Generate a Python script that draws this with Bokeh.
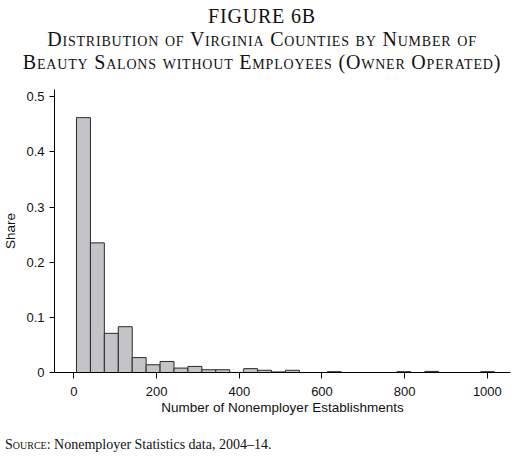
from bokeh.plotting import figure
from bokeh.models import Range1d, FixedTicker, Div
from bokeh.layouts import column
from bokeh.embed import file_html
from bokeh.resources import INLINE

# ---- data ----
bin_start = 6.2
bin_width = 33.7
shares = [0.462, 0.235, 0.071, 0.083, 0.027, 0.014, 0.020, 0.008, 0.011, 0.005,
          0.005, 0.0, 0.007, 0.004, 0.001, 0.004, 0.0, 0.0, 0.0015, 0.0,
          0.0, 0.0, 0.0, 0.0015, 0.0, 0.002, 0.0, 0.0, 0.0, 0.0015]
x_ticks = [0, 200, 400, 600, 800, 1000]
y_ticks = [0, 0.1, 0.2, 0.3, 0.4, 0.5]

title_lines = ["FIGURE 6B",
               "Distribution of Virginia Counties by Number of",
               "Beauty Salons without Employees (Owner Operated)"]
x_label = "Number of Nonemployer Establishments"
y_label = "Share"
source_head = "Source"
source_text = ": Nonemployer Statistics data, 2004\u201314."

lefts = [bin_start + i * bin_width for i in range(len(shares))]
rights = [l + bin_width for l in lefts]

SANS = "Liberation Sans"
SERIF = "Liberation Serif"

title_html = (
    f'<div style="width:514px; text-align:center; '
    f'font-family:\'{SERIF}\'; color:#111; line-height:23px; font-size:20px; letter-spacing:0.8px;">'
    f'<div>{title_lines[0]}</div>'
    f'<div style="font-variant:small-caps">{title_lines[1]}</div>'
    f'<div style="font-variant:small-caps">{title_lines[2]}</div>'
    f'</div>'
)
title_div = Div(text=title_html, width=514, height=70)

p = figure(width=514, height=347, x_range=Range1d(-47, 1056), y_range=Range1d(0, 0.513),
           output_backend="svg", toolbar_location=None,
           min_border_left=0, min_border_right=4, min_border_top=9, min_border_bottom=55)
p.outline_line_color = None
p.xgrid.visible = False
p.ygrid.visible = False
p.background_fill_color = "white"
p.border_fill_color = "white"

p.quad(left=lefts, right=rights, bottom=0, top=shares,
       fill_color="#c4c4c8", line_color="#2a2a2a", line_width=1)

for ax in (p.xaxis[0], p.yaxis[0]):
    ax.axis_line_color = "black"
    ax.axis_line_width = 1
    ax.major_tick_line_color = "black"
    ax.minor_tick_line_color = None
    ax.major_tick_in = 0
    ax.major_label_text_font = SANS
    ax.major_label_text_font_size = "13px"
    ax.major_label_text_color = "#111111"
    ax.axis_label_text_font = SANS
    ax.axis_label_text_font_size = "13.5px"
    ax.axis_label_text_font_style = "normal"
    ax.axis_label_text_color = "#111111"

p.xaxis.ticker = FixedTicker(ticks=x_ticks)
p.xaxis.major_tick_out = 6
p.xaxis.major_label_standoff = 8
p.xaxis.axis_label = x_label
p.xaxis.axis_label_standoff = 1

p.yaxis.ticker = FixedTicker(ticks=y_ticks)
p.yaxis.major_label_overrides = {0: "0"}
p.yaxis.major_tick_out = 5
p.yaxis.major_label_standoff = 5
p.yaxis.major_label_orientation = "horizontal"
p.yaxis.axis_label = y_label
p.yaxis.axis_label_standoff = 5

source_html = (
    f'<div style="position:relative; top:4px; white-space:nowrap; '
    f'font-family:\'{SERIF}\'; color:#111; font-size:14px; line-height:18px;">'
    f'<span style="font-variant:small-caps">{source_head}</span>{source_text}</div>'
)
source_div = Div(text=source_html, width=514, height=24)

layout = column(title_div, p, source_div, spacing=0)

open("out.html", "w").write(file_html(layout, INLINE))
